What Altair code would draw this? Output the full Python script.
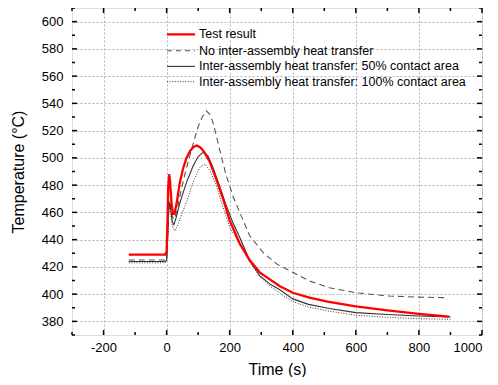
import altair as alt
import pandas as pd

# ---------------- data ----------------
test_t = [-120, -60, -5, 0, 3, 5, 8, 11, 15, 20, 25, 32, 42, 52, 63, 74, 85, 96, 108, 120,
          137, 158, 179, 200, 232, 263, 295, 326, 358, 400, 453, 510, 600, 700, 800, 895]
test_T = [429, 429, 429, 431, 455, 478, 488, 483, 468, 459, 459, 467, 482, 492, 500, 505, 508, 509, 507.5, 504,
          497, 484, 470, 454, 437, 425, 416, 411, 406, 401, 397.5, 394.5, 391, 388, 385.5, 383.5]

nohx_t = [-120, -5, 0, 3, 6, 9, 13, 18, 24, 32, 42, 58, 74, 90, 100, 113, 126, 137, 147, 158,
          168, 179, 189, 200, 210, 232, 263, 308, 350, 400, 453, 516, 600, 706, 800, 880]
nohx_T = [425, 425, 426, 442, 462, 469, 465, 457, 455, 460, 472, 488, 502, 515, 523, 530, 534.5, 532, 526, 516,
          506, 496, 487, 479.5, 472, 460, 443, 430, 422, 416, 409.6, 404.7, 401, 398.6, 397.8, 397.4]

c50_t = [-120, -5, 0, 3, 6, 9, 13, 18, 23, 30, 42, 63, 84, 100, 116, 131, 147, 168, 189, 210,
         232, 263, 295, 330, 360, 400, 450, 516, 600, 700, 800, 900]
c50_T = [424, 424, 425, 440, 460, 467, 462, 453, 451, 456, 467, 482, 494, 501, 504, 501.5, 493, 479.5, 465, 452.5,
         441.5, 425, 413.5, 407, 403, 396.5, 392.5, 389.4, 386.4, 385, 384, 383.3]

c100_t = [-120, -5, 0, 3, 6, 9, 13, 18, 26, 34, 42, 63, 84, 105, 121, 137, 158, 179, 200, 232,
          263, 295, 330, 360, 400, 450, 516, 600, 700, 800, 900]
c100_T = [423, 423, 423.5, 438, 458, 464.5, 458, 450, 446.5, 450, 455, 467.5, 482, 493, 495.5, 491, 479.5, 463.5, 449, 437,
          423.5, 413, 405.5, 400.5, 394.5, 390.5, 387.5, 384.5, 383, 382, 381.5]

series_names = [
    "Test result",
    "No inter-assembly heat transfer",
    "Inter-assembly heat transfer: 50% contact area",
    "Inter-assembly heat transfer: 100% contact area",
]

x_major = [-200, 0, 200, 400, 600, 800, 1000]
y_major = [380, 400, 420, 440, 460, 480, 500, 520, 540, 560, 580, 600]
x_minor = [-300, -100, 100, 300, 500, 700, 900]
y_minor = [370, 390, 410, 430, 450, 470, 490, 510, 530, 550, 570, 590, 610]

# ---------------- chart ----------------
W, H = 410, 327
FONT = "Liberation Sans"
xs = alt.Scale(domain=[-300, 1000], nice=False, zero=False)
ys = alt.Scale(domain=[370, 610], nice=False, zero=False)

df_test = pd.DataFrame({"t": test_t, "T": test_T})
df_nohx = pd.DataFrame({"t": nohx_t, "T": nohx_T})
df_c50 = pd.DataFrame({"t": c50_t, "T": c50_T})
df_c100 = pd.DataFrame({"t": c100_t, "T": c100_T})

MAJ, MIN = 5, 3

# labelled axes with grid
ax_x_main = alt.Axis(values=x_major, ticks=False, tickSize=0, domain=False, grid=True,
                     gridColor="#b5b5b5", gridDash=[2, 2], gridWidth=1,
                     labelExpr="'' + datum.value",
                     labelFont=FONT, labelFontSize=13, labelColor="#000", labelPadding=6,
                     title="Time (s)", titleFont=FONT, titleFontSize=16, titleFontWeight="normal",
                     titleColor="#000", titleX=W / 2, titleY=34, titleBaseline="middle")
ax_y_main = alt.Axis(values=y_major, ticks=False, tickSize=0, domain=False, grid=True,
                     gridColor="#b5b5b5", gridDash=[2, 2], gridWidth=1,
                     labelFont=FONT, labelFontSize=13, labelColor="#000", labelPadding=9,
                     title="Temperature (°C)", titleFont=FONT, titleFontSize=16, titleFontWeight="normal",
                     titleColor="#000", titleX=-54, titleY=H / 2, titleBaseline="middle", titleAngle=270)


def enc(chart, xa=None, ya=None):
    return chart.encode(
        x=alt.X("t:Q", scale=xs, axis=xa),
        y=alt.Y("T:Q", scale=ys, axis=ya),
    )


dashed = enc(alt.Chart(df_nohx).mark_line(color="#555555", strokeWidth=1.1, strokeDash=[6, 4]),
             ax_x_main, ax_y_main)
solid = enc(alt.Chart(df_c50).mark_line(color="#333333", strokeWidth=1.1))
dotted = enc(alt.Chart(df_c100).mark_line(color="#333333", strokeWidth=1, strokeDash=[1, 1.6]))
red = enc(alt.Chart(df_test).mark_line(color="#ff0000", strokeWidth=2.3))

# inward ticks on all four sides of the frame, placed through the x / y scales
tick_layers = []
for vals, size in ((x_major, MAJ), (x_minor, MIN)):
    d = pd.DataFrame({"t": vals})
    for y0, y1 in ((H, H - size), (0, size)):
        tick_layers.append(
            alt.Chart(d).mark_rule(color="#000000", strokeWidth=1.5).encode(
                x=alt.X("t:Q", scale=xs, axis=None),
                y=alt.value(y0), y2=alt.value(y1))
        )
for vals, size in ((y_major, MAJ), (y_minor, MIN)):
    d = pd.DataFrame({"T": vals})
    for x0, x1 in ((0, size), (W, W - size)):
        tick_layers.append(
            alt.Chart(d).mark_rule(color="#000000", strokeWidth=1.5).encode(
                y=alt.Y("T:Q", scale=ys, axis=None),
                x=alt.value(x0), x2=alt.value(x1))
        )

# manual legend
leg_styles = [
    dict(color="#ff0000", strokeWidth=2.3),
    dict(color="#555555", strokeWidth=1.1, strokeDash=[5, 4]),
    dict(color="#333333", strokeWidth=1.1),
    dict(color="#333333", strokeWidth=1, strokeDash=[1, 1.6]),
]
leg_rows = [26.4, 42.7, 58.4, 73.6]
one = pd.DataFrame({"k": [0]})
legend_layers = []
for name, sty, yy in zip(series_names, leg_styles, leg_rows):
    legend_layers.append(
        alt.Chart(one).mark_rule(**sty).encode(x=alt.value(95), x2=alt.value(123), y=alt.value(yy))
    )
    legend_layers.append(
        alt.Chart(one).mark_text(text=name, align="left", baseline="middle", font=FONT,
                                 fontSize=12.5, color="#000").encode(x=alt.value(127), y=alt.value(yy))
    )

chart = alt.layer(dashed, solid, dotted, red, *tick_layers, *legend_layers).resolve_axis(
    x="independent", y="independent"
).properties(
    width=W, height=H,
    autosize=alt.AutoSizeParams(type="none"),
    padding={"left": 64, "top": 0, "right": 8, "bottom": 42},
).configure_view(stroke="#000", strokeWidth=1.3).configure(background="white")

chart.save("out.html", embed_options={"renderer": "svg", "actions": False})
